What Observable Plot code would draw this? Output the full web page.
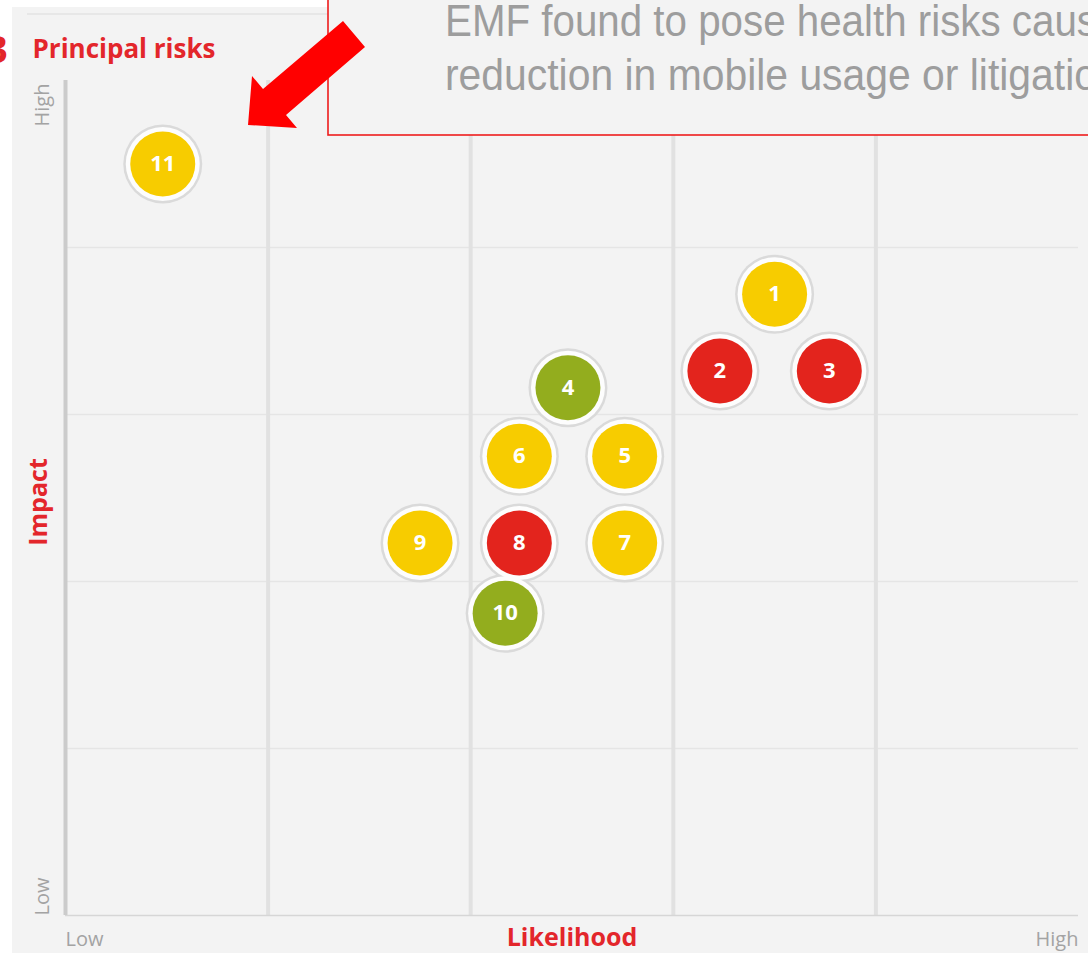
<!DOCTYPE html>
<html>
<head>
<meta charset="utf-8">
<script src="https://cdn.jsdelivr.net/npm/d3@7"></script>
<script src="https://cdn.jsdelivr.net/npm/@observablehq/plot@0.6"></script>
<style>
  html, body { margin: 0; padding: 0; background: #ffffff; }
  #wrap { position: relative; width: 1088px; height: 953px; overflow: hidden; background: #ffffff; font-family: "Open Sans", sans-serif; }
  #panel { position: absolute; left: 12px; top: 7px; right: 0; bottom: 0; background: #f3f3f3; }
  #topline { position: absolute; left: 27px; top: 13px; width: 310px; height: 2px; background: #e7e7e7; }
  #chart { position: absolute; left: 0; top: 0; }
  #overlay { position: absolute; left: 0; top: 0; }
</style>
</head>
<body>
<div id="wrap">
  <div id="panel"></div>
  <div id="topline"></div>
  <div id="chart"></div>
  <svg id="overlay" width="1088" height="953"></svg>
</div>
<script>
// ---- data ----
const riskIds     = [1, 2, 3, 4, 5, 6, 7, 8, 9, 10, 11];
const likelihood  = [3.50, 3.23, 3.77, 2.48, 2.76, 2.24, 2.76, 2.24, 1.75, 2.17, 0.48];
const impact      = [3.72, 3.26, 3.26, 3.16, 2.75, 2.75, 2.23, 2.23, 2.23, 1.81, 4.50];
const rating      = ["medium", "high", "high", "low", "medium", "medium", "medium", "high", "medium", "low", "medium"];
const ratingNames = ["low", "medium", "high"];
const ratingColors = ["#93ad1e", "#f7cc00", "#e3241d"];
const gridSteps   = [1, 2, 3, 4];
const axisEnds    = [0, 5];
const endLabels   = ["Low", "High"];
const title       = "Principal risks";
const xTitle      = "Likelihood";
const yTitle      = "Impact";
const calloutLines = ["EMF found to pose health risks caus", "reduction in mobile usage or litigatio"];

const risks = riskIds.map((id, i) => ({id, likelihood: likelihood[i], impact: impact[i], rating: rating[i]}));
const ends = axisEnds.map((v, i) => ({v, label: endLabels[i]}));

const red = "#e3262b";
const grey = "#a3a3a3";

const chart = Plot.plot({
  width: 1088,
  height: 953,
  marginLeft: 65,
  marginRight: 10,
  marginTop: 80,
  marginBottom: 38,
  x: {domain: [0, 5], axis: null},
  y: {domain: [0, 5], axis: null},
  color: {domain: ratingNames, range: ratingColors},
  style: {background: "transparent", fontFamily: "Open Sans, sans-serif", overflow: "visible"},
  marks: [
    Plot.ruleY(gridSteps, {stroke: "#e5e5e5", strokeWidth: 1.5}),
    Plot.ruleX(gridSteps, {stroke: "#e1e1e1", strokeWidth: 4}),
    Plot.ruleY([axisEnds[0]], {stroke: "#d6d6d6", strokeWidth: 1.5}),
    Plot.ruleX([axisEnds[0]], {stroke: "#cbcbcb", strokeWidth: 4}),
    // bubbles
    Plot.dot(risks, {x: "likelihood", y: "impact", r: 39.5, fill: "#dadada", stroke: "none"}),
    Plot.dot(risks, {x: "likelihood", y: "impact", r: 37, fill: "#fdfdfd", stroke: "none"}),
    Plot.dot(risks, {x: "likelihood", y: "impact", r: 32.5, fill: "rating", stroke: "none"}),
    Plot.text(risks, {x: "likelihood", y: "impact", text: "id", fill: "white", fontWeight: "bold", fontSize: 22}),
    // x end labels
    Plot.text([ends[0]], {x: "v", text: "label", frameAnchor: "bottom", lineAnchor: "bottom", textAnchor: "start", dy: 30, fill: grey, fontSize: 20}),
    Plot.text([ends[1]], {x: "v", text: "label", frameAnchor: "bottom", lineAnchor: "bottom", textAnchor: "end", dy: 30, fill: grey, fontSize: 20}),
    // y end labels
    Plot.text([ends[0]], {y: "v", text: "label", frameAnchor: "left", lineAnchor: "bottom", textAnchor: "start", rotate: -90, dx: -17, fill: grey, fontSize: 20}),
    Plot.text([ends[1]], {y: "v", text: "label", frameAnchor: "left", lineAnchor: "bottom", textAnchor: "end", rotate: -90, dx: -17, dy: 3, fill: grey, fontSize: 20}),
    // axis titles
    Plot.text([xTitle], {frameAnchor: "bottom", lineAnchor: "bottom", textAnchor: "middle", dy: 30, fill: red, fontWeight: "bold", fontSize: 25}),
    Plot.text([yTitle], {frameAnchor: "left", lineAnchor: "bottom", textAnchor: "middle", rotate: -90, dx: -19, dy: 4, fill: red, fontWeight: "bold", fontSize: 25}),
    // chart title
    Plot.text([title], {frameAnchor: "top-left", lineAnchor: "bottom", textAnchor: "start", dx: -33, dy: -23, fill: red, fontWeight: "bold", fontSize: 26})
  ]
});
document.getElementById("chart").appendChild(chart);

// ---- annotation overlay (callout box, arrow, clipped figure number) ----
const ov = d3.select("#overlay");
ov.append("text")
  .attr("x", -14).attr("y", 63)
  .attr("fill", red).attr("font-family", "Open Sans, sans-serif")
  .attr("font-weight", "bold").attr("font-size", 38)
  .text("3");
ov.append("rect")
  .attr("x", 328).attr("y", -5).attr("width", 800).attr("height", 140)
  .attr("fill", "#f3f3f3").attr("stroke", "#ee1c1c").attr("stroke-width", 1.6);
calloutLines.forEach((line, i) => {
  ov.append("text")
    .attr("x", 445).attr("y", 36 + i * 54)
    .attr("fill", "#9d9d9d")
    .attr("font-family", "Liberation Sans, Arial, sans-serif")
    .attr("font-size", 44)
    .attr("textLength", 652)
    .attr("lengthAdjust", "spacingAndGlyphs")
    .text(line);
});
ov.append("polygon")
  .attr("points", "343,21 365,47 286,115 297,128 248,125 252,76 263,89")
  .attr("fill", "#ff0000");
</script>
</body>
</html>
